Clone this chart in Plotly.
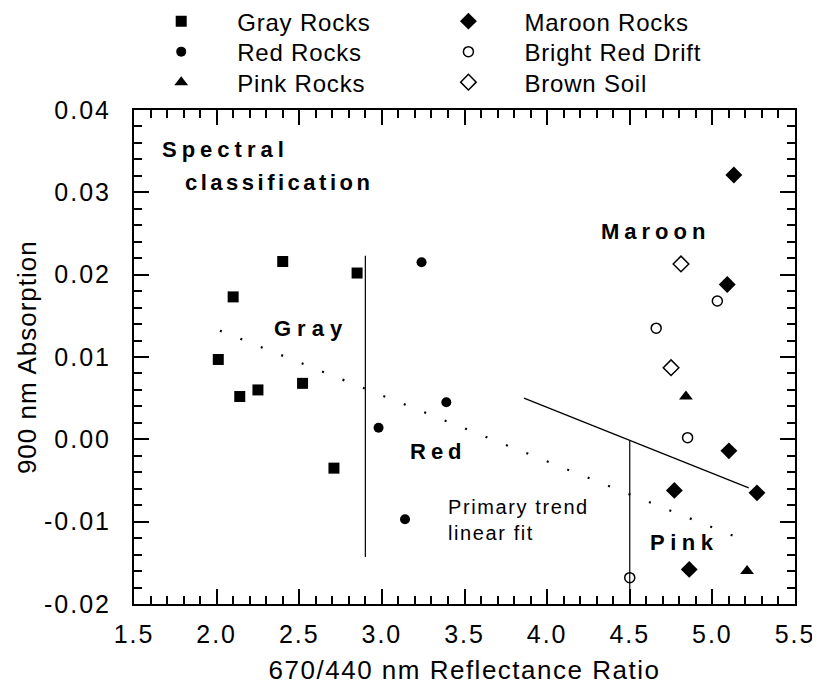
import plotly.graph_objects as go

# ---------------- data ----------------
gray_x = [2.01, 2.10, 2.40, 2.85, 2.14, 2.25, 2.52, 2.71]
gray_y = [0.0097, 0.0173, 0.0216, 0.0202, 0.0052, 0.0060, 0.0068, -0.0035]

red_x = [3.24, 2.98, 3.39, 3.14]
red_y = [0.0215, 0.0014, 0.0045, -0.0097]

pink_x = [4.84, 5.21]
pink_y = [0.0052, -0.0160]

maroon_x = [5.13, 5.09, 5.10, 4.77, 5.27, 4.86]
maroon_y = [0.0321, 0.0188, -0.0014, -0.0062, -0.0065, -0.0158]

drift_x = [5.03, 4.66, 4.85, 4.50]
drift_y = [0.0168, 0.0135, 0.0002, -0.0168]

soil_x = [4.81, 4.75]
soil_y = [0.0213, 0.0087]

gray_red_boundary_x = [2.9, 2.9]
gray_red_boundary_y = [-0.0143, 0.0223]
red_pink_boundary_x = [4.5, 4.5]
red_pink_boundary_y = [-0.02, -0.0002]
maroon_fit_x = [3.86, 5.22]
maroon_fit_y = [0.0050, -0.0059]
primary_fit_x = [2.02, 5.20]
primary_fit_y = [0.0132, -0.0123]

x_range = [1.5, 5.5]
y_range = [-0.02, 0.04]
x_ticks = [1.5, 2.0, 2.5, 3.0, 3.5, 4.0, 4.5, 5.0, 5.5]
x_tick_labels = ["1.5", "2.0", "2.5", "3.0", "3.5", "4.0", "4.5", "5.0", "5.5"]
y_ticks = [-0.02, -0.01, 0.0, 0.01, 0.02, 0.03, 0.04]
y_tick_labels = ["-0.02", "-0.01", "0.00", "0.01", "0.02", "0.03", "0.04"]

FONT = "Liberation Sans, Arial, Helvetica, sans-serif"


def ls(text, px):
    return f"<span style='letter-spacing:{px}px'>{text}</span>"


fig = go.Figure()

# lines
line_style = dict(color="black", width=1.2)
fig.add_trace(go.Scatter(x=gray_red_boundary_x, y=gray_red_boundary_y, mode="lines",
                         line=line_style, showlegend=False, hoverinfo="skip"))
fig.add_trace(go.Scatter(x=red_pink_boundary_x, y=red_pink_boundary_y, mode="lines",
                         line=line_style, showlegend=False, hoverinfo="skip"))
fig.add_trace(go.Scatter(x=maroon_fit_x, y=maroon_fit_y, mode="lines",
                         line=dict(color="black", width=1.3), showlegend=False, hoverinfo="skip"))
fig.add_trace(go.Scatter(x=primary_fit_x, y=primary_fit_y, mode="lines",
                         line=dict(color="black", width=2.2, dash="2px,20px"),
                         showlegend=False, hoverinfo="skip"))

series = [
    ("Gray Rocks", gray_x, gray_y, dict(symbol="square", size=11, color="black"), "legend"),
    ("Red Rocks", red_x, red_y, dict(symbol="circle", size=10, color="black"), "legend2"),
    ("Pink Rocks", pink_x, pink_y, dict(symbol="triangle-up", size=12, color="black"), "legend3"),
    ("Maroon Rocks", maroon_x, maroon_y, dict(symbol="diamond", size=13, color="black"), "legend4"),
    ("Bright Red Drift", drift_x, drift_y,
     dict(symbol="circle-open", size=10, color="black", line=dict(width=1.5, color="black")), "legend5"),
    ("Brown Soil", soil_x, soil_y,
     dict(symbol="diamond-open", size=12, color="black", line=dict(width=1.5, color="black")), "legend6"),
]
for name, xs, ys, mk, lg in series:
    fig.add_trace(go.Scatter(x=xs, y=ys, mode="markers", marker=mk,
                             name=ls(name, 0.8), legend=lg))

# legends (two columns of three rows)
row_y = [1.179, 1.1173, 1.0556]
col_x = [-0.0133, 0.4212]
legend_common = dict(xanchor="left", yanchor="middle", itemwidth=102,
                     font=dict(size=24, family=FONT, color="black"),
                     bgcolor="rgba(0,0,0,0)", borderwidth=0)
fig.update_layout(
    legend=dict(x=col_x[0], y=row_y[0], **legend_common),
    legend2=dict(x=col_x[0], y=row_y[1], **legend_common),
    legend3=dict(x=col_x[0], y=row_y[2], **legend_common),
    legend4=dict(x=col_x[1], y=row_y[0], **legend_common),
    legend5=dict(x=col_x[1], y=row_y[1], **legend_common),
    legend6=dict(x=col_x[1], y=row_y[2], **legend_common),
)

# annotations
region_font = dict(size=22, family=FONT, color="black")
labels = [
    ("Spectral", 2.056, 0.0352, 5),
    ("classification", 2.378, 0.0312, 3.5),
    ("Gray", 2.571, 0.0135, 6),
    ("Red", 3.345, -0.0015, 5),
    ("Maroon", 4.656, 0.0253, 5),
    ("Pink", 4.831, -0.0125, 5.5),
]
for txt, ax_, ay_, sp in labels:
    fig.add_annotation(x=ax_, y=ay_, xref="x", yref="y", text="<b>" + ls(txt, sp) + "</b>",
                       showarrow=False, font=region_font, xanchor="center", yanchor="middle")

fig.add_annotation(x=3.388, y=-0.0098, xref="x", yref="y",
                   text=ls("Primary trend", 1.6) + "<br>" + ls("linear fit", 1.6),
                   showarrow=False, align="left", xanchor="left", yanchor="middle",
                   font=dict(size=20, family=FONT, color="black"))

fig.add_annotation(x=-0.1617, y=0.5, xref="paper", yref="paper",
                   text=ls("900 nm Absorption", 1), textangle=-90, showarrow=False,
                   xanchor="center", yanchor="middle",
                   font=dict(size=26, family=FONT, color="black"))

fig.update_xaxes(range=x_range, tickmode="array", tickvals=x_ticks,
                 ticktext=[ls(t, 2) for t in x_tick_labels],
                 ticks="inside", ticklen=15, tickwidth=2, tickcolor="black",
                 showline=True, linecolor="black", linewidth=2, mirror="allticks",
                 showgrid=False, zeroline=False,
                 tickfont=dict(size=25, family=FONT, color="black"),
                 minor=dict(dtick=0.1, ticks="inside", ticklen=8, tickwidth=2,
                            tickcolor="black"),
                 ticklabelstandoff=7,
                 title=dict(text=ls("670/440 nm Reflectance Ratio", 1.5), standoff=14,
                            font=dict(size=26, family=FONT, color="black")))
fig.update_yaxes(range=y_range, tickmode="array", tickvals=y_ticks,
                 ticktext=[ls(t, 2) for t in y_tick_labels],
                 ticks="inside", ticklen=15, tickwidth=2, tickcolor="black",
                 showline=True, linecolor="black", linewidth=2, mirror="allticks",
                 showgrid=False, zeroline=False,
                 tickfont=dict(size=25, family=FONT, color="black"),
                 minor=dict(dtick=0.002, ticks="inside", ticklen=8, tickwidth=2,
                            tickcolor="black"),
                 ticklabelstandoff=16)

# the page adds an 8px body margin, so the figure is 8px smaller
fig.update_layout(width=812, height=684,
                  margin=dict(l=126, r=24.6, t=101.5, b=88.1, autoexpand=False),
                  plot_bgcolor="white", paper_bgcolor="white",
                  font=dict(family=FONT, color="black"),
                  showlegend=True)

fig.write_html("out.html")
